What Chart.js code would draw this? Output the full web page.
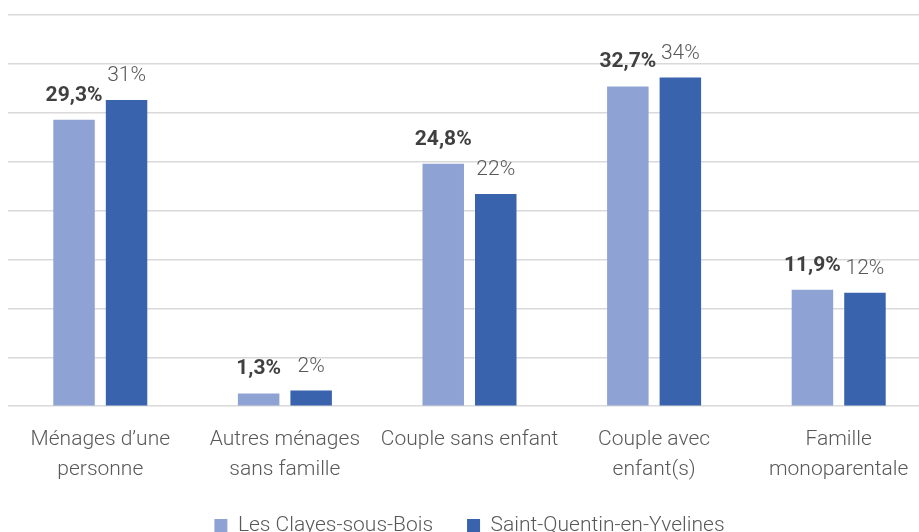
<!DOCTYPE html>
<html>
<head>
<meta charset="utf-8">
<script src="https://cdn.jsdelivr.net/npm/chart.js@4/dist/chart.umd.min.js"></script>
<style>
  html, body { margin: 0; padding: 0; background: #fff; overflow: hidden; }
  #wrap { width: 931px; height: 546px; }
</style>
</head>
<body>
<div id="wrap"><canvas id="typesChart" width="931" height="546"></canvas></div>
<script>
// Types de ménages (%)
var categories = [
    ['Ménages d\u2019une', 'personne'],
    ['Autres ménages', 'sans famille'],
    'Couple sans enfant',
    ['Couple avec', 'enfant(s)'],
    ['Famille', 'monoparentale']
];
var clayesValues = [29.3, 1.3, 24.8, 32.7, 11.9];
var sqyValues = [31.3, 1.6, 21.7, 33.6, 11.6];
var seriesNames = ['Les Clayes-sous-Bois', 'Saint-Quentin-en-Yvelines'];

var FONT = 'Roboto, "Noto Sans", sans-serif';

// étiquettes de valeur au-dessus des barres
var valueLabels = {
    id: 'valueLabels',
    afterDatasetsDraw: function (chart) {
        var ctx = chart.ctx;
        chart.data.datasets.forEach(function (ds, di) {
            var meta = chart.getDatasetMeta(di);
            meta.data.forEach(function (bar, i) {
                var v = ds.data[i];
                var txt = di === 0 ? v.toFixed(1).replace('.', ',') + '%' : Math.round(v) + '%';
                ctx.save();
                ctx.font = di === 0 ? 'bold 21px ' + FONT : '300 21px ' + FONT;
                ctx.fillStyle = di === 0 ? '#404040' : '#595959';
                ctx.textAlign = 'center';
                ctx.textBaseline = 'alphabetic';
                ctx.fillText(txt, bar.x, bar.y - 19);
                ctx.restore();
            });
        });
    }
};

var ctxTypes = document.getElementById('typesChart').getContext('2d');
var typesChart = new Chart(ctxTypes, {
    type: 'bar',
    data: {
        labels: categories,
        datasets: [{
            label: seriesNames[0],
            data: clayesValues,
            backgroundColor: '#8FA2D4',
            borderWidth: 0,
            categoryPercentage: 0.569,
            barPercentage: 0.79
        }, {
            label: seriesNames[1],
            data: sqyValues,
            backgroundColor: '#3A63AD',
            borderWidth: 0,
            categoryPercentage: 0.569,
            barPercentage: 0.79
        }]
    },
    options: {
        responsive: false,
        animation: false,
        devicePixelRatio: 1,
        layout: {
            padding: { left: 8, right: 0, top: 15, bottom: 0 }
        },
        scales: {
            x: {
                grid: { display: false, drawTicks: false },
                border: { display: false },
                ticks: {
                    padding: 19,
                    color: '#595959',
                    font: { family: FONT, size: 21, weight: '300', lineHeight: 1.4 },
                    maxRotation: 0,
                    autoSkip: false
                },
                // on retire l'espace vide sous les libellés
                afterFit: function (scale) { scale.height -= 22; }
            },
            y: {
                min: 0,
                max: 40,
                ticks: { display: false, stepSize: 5 },
                grid: { color: '#d9d9d9', lineWidth: 1.5, drawTicks: false },
                border: { display: false }
            }
        },
        plugins: {
            legend: {
                position: 'bottom',
                labels: {
                    boxWidth: 13,
                    boxHeight: 13,
                    padding: 34,
                    color: '#595959',
                    font: { family: FONT, size: 21, weight: '300' }
                }
            },
            tooltip: { enabled: false }
        }
    },
    plugins: [valueLabels]
});
</script>
</body>
</html>
